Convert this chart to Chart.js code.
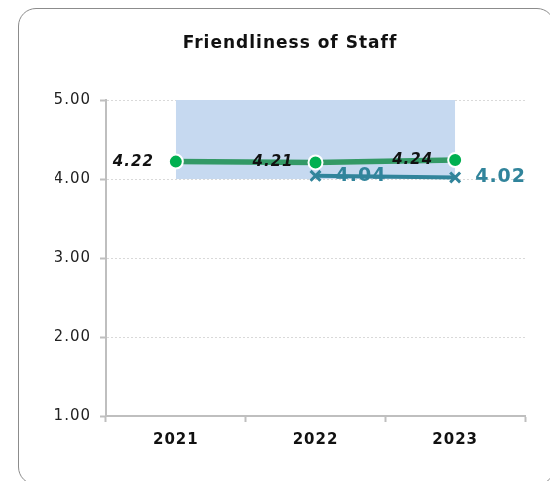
<!DOCTYPE html>
<html>
<head>
<meta charset="utf-8">
<script src="https://cdn.jsdelivr.net/npm/chart.js@4/dist/chart.umd.min.js"></script>
<style>
  html, body { margin: 0; padding: 0; background: #fff; }
  #wrap { position: relative; width: 550px; height: 481px; overflow: hidden; }
  #card { position: absolute; left: 18px; top: 8px; width: 537px; height: 477px;
          border: 1.5px solid #8c8c8c; border-radius: 18px; box-sizing: border-box; }
  canvas { position: absolute; left: 0; top: 0; }
</style>
</head>
<body>
<div id="wrap">
  <div id="card"></div>
  <canvas id="c" width="550" height="481"></canvas>
</div>
<script>
// Survey years and average scores
const years = ['2021', '2022', '2023'];
const overallScores = [4.22, 4.21, 4.24];
const peerScores = [null, 4.04, 4.02];
// Shaded target band (4.00 – 5.00)
const bandTop = [5, 5, 5];
const bandBottom = 4;
const yTicks = [1, 2, 3, 4, 5];

const FONT = '"DejaVu Sans", Verdana, sans-serif';
const GREEN_LINE = '#339966';
const GREEN_DOT = '#00b050';
const TEAL = '#31849b';

// Draw value labels next to each point
const valueLabels = {
  id: 'valueLabels',
  afterDatasetsDraw(chart) {
    const ctx = chart.ctx;
    ctx.save();
    ctx.letterSpacing = '1px';
    ctx.textBaseline = 'middle';
    chart.data.datasets.forEach((ds, i) => {
      if (!ds.labelStyle) return;
      const meta = chart.getDatasetMeta(i);
      meta.data.forEach((pt, j) => {
        const v = ds.data[j];
        if (v == null) return;
        const s = ds.labelStyle;
        ctx.font = s.font;
        ctx.fillStyle = s.color;
        ctx.textAlign = s.align;
        ctx.fillText(v.toFixed(2), pt.x + s.dx, pt.y + s.dy);
      });
    });
    ctx.restore();
  }
};

// Slightly wider text tracking for all chart text
const spacing = {
  id: 'spacing',
  beforeDraw(chart) { chart.ctx.letterSpacing = '1px'; }
};

new Chart(document.getElementById('c'), {
  type: 'line',
  data: {
    labels: years,
    datasets: [
      {
        data: overallScores,
        borderColor: GREEN_LINE,
        borderWidth: 5.5,
        pointRadius: 7,
        pointBackgroundColor: GREEN_DOT,
        pointBorderColor: '#ffffff',
        pointBorderWidth: 2,
        fill: false,
        order: 1,
        labelStyle: { font: 'italic bold 15px ' + FONT, color: '#111', align: 'right', dx: -22, dy: 0 }
      },
      {
        data: peerScores,
        borderColor: TEAL,
        borderWidth: 4,
        pointStyle: 'crossRot',
        pointRadius: 7,
        pointBorderColor: TEAL,
        pointBorderWidth: 3,
        fill: false,
        order: 2,
        labelStyle: { font: 'bold 19px ' + FONT, color: TEAL, align: 'left', dx: 20, dy: 0 }
      },
      {
        data: bandTop,
        borderWidth: 0,
        pointRadius: 0,
        backgroundColor: '#c6d9f0',
        fill: { value: bandBottom },
        order: 3
      }
    ]
  },
  options: {
    responsive: false,
    animation: false,
    layout: { padding: { top: 33, right: 25, left: 55, bottom: 0 } },
    plugins: {
      legend: { display: false },
      tooltip: { enabled: false },
      title: {
        display: true,
        text: 'Friendliness of Staff',
        color: '#111',
        font: { family: FONT, size: 17, weight: 'bold', lineHeight: 1.2 },
        padding: { top: 0, bottom: 46.6 }
      }
    },
    scales: {
      x: {
        offset: true,
        grid: { offset: true, drawOnChartArea: false, drawTicks: true, tickLength: 6, tickColor: '#bfbfbf', tickWidth: 2 },
        border: { display: true, color: '#bfbfbf', width: 2 },
        ticks: { color: '#111', font: { family: FONT, size: 15, weight: 'bold' }, padding: 9 },
        afterFit(s) { s.height = 65; }
      },
      y: {
        min: 1,
        max: 5,
        afterBuildTicks(s) { s.ticks = yTicks.map(v => ({ value: v })); },
        grid: { color: '#d9d9d9', lineWidth: 1, tickLength: 6, tickColor: '#bfbfbf', tickWidth: 2 },
        border: { display: true, color: '#bfbfbf', width: 2, dash: [2, 2] },
        ticks: { color: '#222', font: { family: FONT, size: 15 }, padding: 9, callback: v => Number(v).toFixed(2) },
        afterFit(s) { s.width = 51; }
      }
    }
  },
  plugins: [spacing, valueLabels]
});
</script>
</body>
</html>
